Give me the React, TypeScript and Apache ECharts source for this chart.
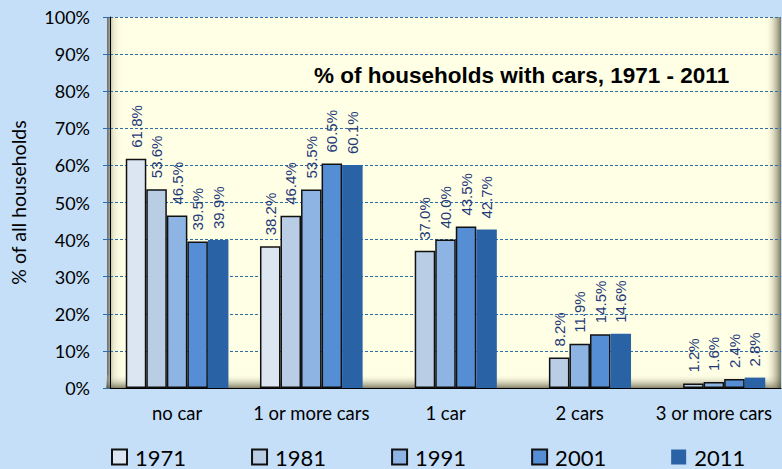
import React, { useEffect, useRef } from "react";
import * as echarts from "echarts";

const categories = ["no car", "1 or more cars", "1 car", "2 cars", "3 or more cars"];
const years = ["1971", "1981", "1991", "2001", "2011"];
const v1971 = [61.8, 38.2, null, null, null];
const v1981 = [53.6, 46.4, 37.0, 8.2, 1.2];
const v1991 = [46.5, 53.5, 40.0, 11.9, 1.6];
const v2001 = [39.5, 60.5, 43.5, 14.5, 2.4];
const v2011 = [39.9, 60.1, 42.7, 14.6, 2.8];
const yTicks = [0, 10, 20, 30, 40, 50, 60, 70, 80, 90, 100];
const titleText = "% of households with cars, 1971 - 2011";
const yName = "% of all households";

const seriesValues = [v1971, v1981, v1991, v2001, v2011];
const colors = ["#DCE6F2", "#B9CDE5", "#8EB4E3", "#558ED5", "#2A62A6"];
const borders = [1.5, 1.5, 1.5, 1.5, 0];

const GL = 106, GT = 17, GR = 1, GB = 81;

export default function App() {
  const ref = useRef<HTMLDivElement>(null);
  useEffect(() => {
    if (!ref.current) return;
    const chart = echarts.init(ref.current, null, { renderer: "svg" });
    const W = 782, H = 469;
    const pw = W - GL - GR, ph = H - GT - GB;
    chart.setOption({
      animation: false,
      backgroundColor: "#C5DFF8",
      title: {
        text: titleText,
        left: 309,
        top: 59,
        textStyle: { fontFamily: "Liberation Sans, Arial", fontWeight: "bold", fontSize: 22.5, color: "#000" },
      },
      grid: {
        left: GL, top: GT, right: GR, bottom: GB,
        show: true, backgroundColor: "#FFFFE6", borderWidth: 0,
      },
      graphic: [
        {
          type: "rect", z: 1, silent: true,
          shape: { x: GL + 1, y: GT, width: 16, height: ph },
          style: { fill: new echarts.graphic.LinearGradient(0, 0, 1, 0, [
            { offset: 0, color: "rgba(80,76,50,0.8)" },
            { offset: 0.4, color: "rgba(200,198,170,0.4)" },
            { offset: 1, color: "rgba(255,255,230,0)" },
          ]) },
        },
        {
          type: "rect", z: 1, silent: true,
          shape: { x: GL, y: GT + ph - 14, width: pw, height: 14 },
          style: { fill: new echarts.graphic.LinearGradient(0, 0, 0, 1, [
            { offset: 0, color: "rgba(255,255,230,0)" },
            { offset: 1, color: "rgba(80,76,50,0.7)" },
          ]) },
        },
        {
          type: "rect", z: 1, silent: true,
          shape: { x: GL + pw - 16, y: GT, width: 16, height: ph },
          style: { fill: new echarts.graphic.LinearGradient(0, 0, 1, 0, [
            { offset: 0, color: "rgba(255,255,230,0)" },
            { offset: 1, color: "rgba(80,76,50,0.75)" },
          ]) },
        },
      ],
      legend: {
        data: years,
        icon: "rect",
        left: 111,
        top: 446,
        padding: 0,
        itemWidth: 15,
        itemHeight: 15,
        itemGap: 65,
        textStyle: { fontFamily: "Lato", fontSize: 22, lineHeight: 22, color: "#000", padding: [0, 0, 0, 3] },
      },
      xAxis: {
        type: "category",
        data: categories,
        axisLine: { lineStyle: { color: "#000", width: 1 } },
        axisTick: { length: 6, lineStyle: { color: "#8090A0" } },
        axisLabel: { interval: 0, fontFamily: "Lato", fontSize: 18.5, color: "#000", margin: 15 },
        z: 3,
      },
      yAxis: {
        type: "value",
        min: 0,
        max: 100,
        interval: 10,
        name: yName,
        nameLocation: "middle",
        nameGap: 82,
        nameTextStyle: { fontFamily: "Lato", fontSize: 19.5, color: "#000" },
        axisLine: { show: true, lineStyle: { color: "#000", width: 1 } },
        axisTick: { show: true, length: 7, lineStyle: { color: "#2F6DA8" } },
        axisLabel: {
          fontFamily: "Lato", fontSize: 18, color: "#000", margin: 20,
          formatter: (v: number) => (yTicks.includes(v) ? v + "%" : ""),
        },
        splitLine: { show: true, lineStyle: { color: "#2F6DA8", type: [3, 2], width: 1 } },
        z: 3,
      },
      series: seriesValues.map((vals, i) => ({
        name: years[i],
        type: "bar",
        data: vals,
        barGap: "0%",
        barCategoryGap: "23.5%",
        z: 4,
        itemStyle: { color: colors[i], borderColor: borders[i] ? "#111" : colors[i], borderWidth: borders[i] },
        label: {
          show: true,
          position: "top",
          rotate: 90,
          align: "left",
          verticalAlign: "middle",
          distance: 11,
          fontFamily: "Liberation Sans, Arial",
          fontSize: 15,
          color: "#1F3A78",
          formatter: (p: any) => (p.value == null ? "" : Number(p.value).toFixed(1) + "%"),
        },
      })),
    });
    return () => chart.dispose();
  }, []);
  return (
    <div
      ref={ref}
      style={{ position: "fixed", left: 0, top: 0, width: 782, height: 469, background: "#C5DFF8" }}
    />
  );
}
